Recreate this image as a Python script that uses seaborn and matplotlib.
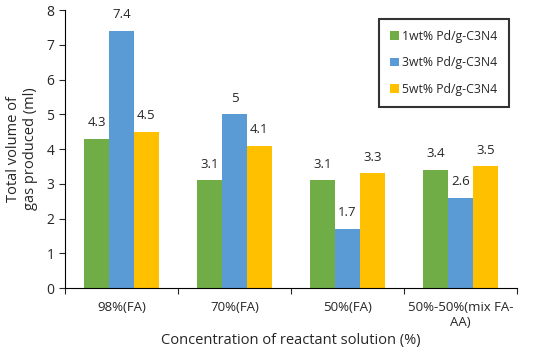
import matplotlib
matplotlib.use("Agg")
import matplotlib.pyplot as plt
import pandas as pd
import seaborn as sns
import numpy as np

categories = ["98%(FA)", "70%(FA)", "50%(FA)", "50%-50%(mix FA-\nAA)"]
series = ["1wt% Pd/g-C3N4", "3wt% Pd/g-C3N4", "5wt% Pd/g-C3N4"]
vals_1wt = [4.3, 3.1, 3.1, 3.4]
vals_3wt = [7.4, 5.0, 1.7, 2.6]
vals_5wt = [4.5, 4.1, 3.3, 3.5]
colors = ["#70AD47", "#5B9BD5", "#FFC000"]

df = pd.DataFrame({
    "cat": categories * 3,
    "series": [series[0]] * 4 + [series[1]] * 4 + [series[2]] * 4,
    "value": vals_1wt + vals_3wt + vals_5wt,
})

sns.set_style("white")
plt.rcParams["font.family"] = ["Open Sans", "DejaVu Sans"]

fig = plt.figure(figsize=(5.5, 3.5), dpi=100)
ax = fig.add_axes([0.118, 0.177, 0.822, 0.794])

sns.barplot(data=df, x="cat", y="value", hue="series", palette=colors,
            width=0.66, saturation=1, linewidth=0, edgecolor="none",
            ax=ax, legend=True)

for c in ax.containers:
    ax.bar_label(c, labels=[f"{v:g}" for v in c.datavalues], padding=7, fontsize=9.5)

ax.set_ylim(0, 8)
ax.set_xlim(-0.5, 3.5)
ax.set_yticks(range(0, 9))
ax.tick_params(axis="y", labelsize=10, length=4, direction="out", left=True, width=0.8)
ax.tick_params(axis="x", which="major", length=0, labelsize=9.5, pad=9)
ax.set_xticks(np.arange(-0.5, 4, 1), minor=True)
ax.tick_params(axis="x", which="minor", length=4, bottom=True, direction="out", width=0.8)

for s in ["top", "right"]:
    ax.spines[s].set_visible(False)
for s in ["left", "bottom"]:
    ax.spines[s].set_color("black")
    ax.spines[s].set_linewidth(0.8)

ax.set_xlabel("Concentration of reactant solution (%)", fontsize=10.5, labelpad=3)
ax.set_ylabel("Total volume of\ngas produced (ml)", fontsize=10.5, labelpad=6)

leg = ax.legend(loc="upper right", bbox_to_anchor=(0.995, 0.99), fontsize=8.8,
                handlelength=0.7, handleheight=0.7, handletextpad=0.3,
                labelspacing=1.1, borderpad=0.9, frameon=True, fancybox=False)
leg.get_frame().set_edgecolor("black")
leg.get_frame().set_linewidth(1.5)

fig.savefig("out.png", dpi=100)
